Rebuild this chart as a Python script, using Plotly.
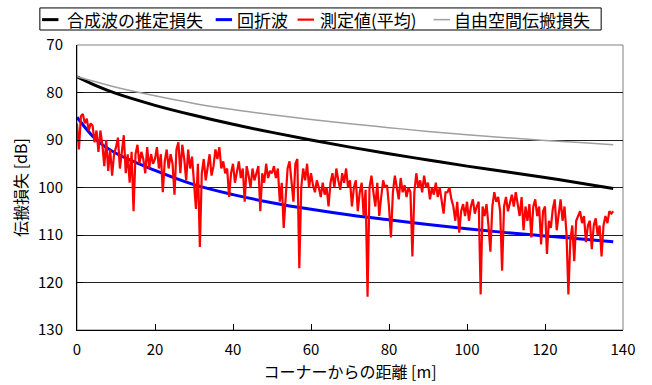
import plotly.graph_objects as go

# ---- data ----
curve_x = [0, 5, 10, 20, 30, 40, 50, 60, 70, 80, 90, 100, 110, 120, 130, 137.5]
synth_loss = [76.7, 78.6, 80.2, 82.7, 84.8, 86.7, 88.4, 90.0, 91.5, 92.9, 94.2, 95.5, 96.7, 97.9, 99.2, 100.2]
diffracted = [85.2, 90.0, 92.8, 96.4, 99.4, 101.5, 103.2, 104.6, 105.8, 106.8, 107.8, 108.7, 109.5, 110.2, 110.9, 111.4]
free_space = [76.7, 77.8, 78.9, 80.7, 82.3, 83.6, 84.7, 85.7, 86.6, 87.4, 88.2, 88.9, 89.5, 90.1, 90.6, 91.0]

measured = [
    86.5, 92, 85, 84.5, 86.5, 85.5, 88, 86.5, 87, 90.5,
    88, 92.5, 88, 91, 95.5, 90, 96.5, 92, 97.5, 93,
    91.5, 89.5, 96, 92, 89, 97, 93, 99, 92.5, 105,
    93, 91, 95, 92.5, 94, 97, 91.5, 96, 93, 95,
    94, 91.5, 96, 93, 101, 94.5, 92, 96, 93, 95,
    101.5, 92, 90.5, 97, 91, 94, 98.5, 92, 96, 93.5,
    99, 104.5, 95, 112.5, 97, 94, 98.5, 96, 93, 97.5,
    95.5, 92, 94, 91.5, 96, 94.5, 97, 96, 102, 97,
    95, 99, 96.5, 94.5, 98, 96, 103, 95.5, 97.5, 100,
    96, 98.5, 97, 95.5, 105, 97, 99, 95, 98, 96.5,
    97, 95.5, 98, 96, 103, 99, 108.5, 101, 96, 94.5,
    99, 103, 95, 94, 117, 100, 96, 98.5, 95, 100,
    97, 99.5, 101, 98.5, 100, 102, 99, 101.5, 100, 104,
    99, 97, 100, 96, 98.5, 100.5, 97, 99, 96, 100,
    98.5, 104, 100, 98.5, 105, 101, 99, 106, 100.5, 123,
    100, 97.5, 101, 104, 99, 106, 102, 98.5, 100, 99.5,
    104, 110.5, 101, 97.5, 100, 102.5, 98, 101, 99.5, 102,
    100, 101, 114.5, 101, 97, 100, 98.5, 101, 97.5, 100,
    99, 102.5, 100, 101.5, 99, 102, 100, 103, 105.5, 101,
    101, 100, 102.5, 104, 107, 103, 109.5, 105, 103.5, 106,
    103, 107, 104, 102.5, 105.5, 104, 103, 122.5, 104, 106,
    103.5, 108, 113.5, 104, 101, 103, 102, 105, 117.5, 104,
    102, 105, 103, 101.5, 104, 101, 103.5, 106, 102, 109,
    104, 107, 103.5, 110.5, 104, 102.5, 106, 104, 112, 105,
    104, 114, 107, 108.5, 104.5, 102.5, 109, 106, 102.5, 107,
    104, 109.5, 122.5, 111, 108, 115.5, 107, 106, 105, 107.5,
    106, 111.5, 108, 107, 113, 108, 106.5, 110, 108, 114.5,
    108, 106, 107.5, 105, 105.5, 105,
]
measured_x = [i * 0.5 for i in range(len(measured))]

x_ticks = [0, 20, 40, 60, 80, 100, 120, 140]
y_ticks = [70, 80, 90, 100, 110, 120, 130]

series_names = ["合成波の推定損失", "回折波", "測定値(平均)", "自由空間伝搬損失"]
series_colors = ["black", "blue", "red", "#a0a0a0"]
series_widths = [3, 3, 2.2, 1.5]

font_family = "Noto Sans CJK JP"

fig = go.Figure()
curve_data = [(curve_x, synth_loss), (curve_x, diffracted), (measured_x, measured), (curve_x, free_space)]
for (xs, ys), name, color, w in zip(curve_data, series_names, series_colors, series_widths):
    fig.add_trace(go.Scatter(
        x=xs, y=ys, mode="lines", name=name, showlegend=False,
        line=dict(color=color, width=w, shape="linear" if name == "測定値(平均)" else "spline"),
    ))

# ---- legend box (drawn as shapes + text, paper coordinates) ----
leg_y = 1.089
sym_x0 = [-0.064, 0.254, 0.404, 0.653]
sym_len = 0.030
txt_x = [-0.022, 0.290, 0.441, 0.687]
shapes = [
    dict(type="rect", xref="paper", yref="paper", x0=-0.068, x1=0.960, y0=1.0526, y1=1.130,
         line=dict(color="black", width=1), fillcolor="white", layer="above"),
    dict(type="rect", xref="paper", yref="paper", x0=0, x1=1, y0=0, y1=1,
         line=dict(color="#808080", width=1), layer="below"),
]
annotations = []
for sx, tx, name, color, w in zip(sym_x0, txt_x, series_names, series_colors, series_widths):
    shapes.append(dict(type="line", xref="paper", yref="paper", x0=sx, x1=sx + sym_len,
                       y0=leg_y, y1=leg_y, line=dict(color=color, width=w)))
    annotations.append(dict(xref="paper", yref="paper", x=tx, y=leg_y, xanchor="left",
                            yanchor="middle", text=name, showarrow=False,
                            font=dict(size=17, family=font_family, color="black")))

fig.update_layout(
    width=652, height=385,
    margin=dict(l=77, r=29, t=45, b=55),
    paper_bgcolor="white", plot_bgcolor="white",
    font=dict(family=font_family, size=15, color="black"),
    showlegend=False,
    xaxis=dict(range=[0, 140], tickvals=x_ticks, showgrid=False, zeroline=False,
               showline=True, linecolor="black", linewidth=1, ticks="inside",
               ticklen=6, tickcolor="black", automargin=False, ticklabelstandoff=6,
               title=dict(text="コーナーからの距離 [m]", font=dict(size=16), standoff=2)),
    yaxis=dict(range=[130, 70], tickvals=y_ticks, showgrid=True, gridcolor="#202020",
               gridwidth=1, zeroline=False, showline=True, linecolor="black", linewidth=1,
               ticks="inside", ticklen=6, tickcolor="black", automargin=False,
               ticklabelstandoff=10,
               title=dict(text="伝搬損失 [dB]", font=dict(size=16), standoff=6)),
    shapes=shapes,
    annotations=annotations,
)

fig.write_html("out.html", config={"displayModeBar": False},
               post_script="document.body.style.margin='0';document.body.style.overflow='hidden';")
